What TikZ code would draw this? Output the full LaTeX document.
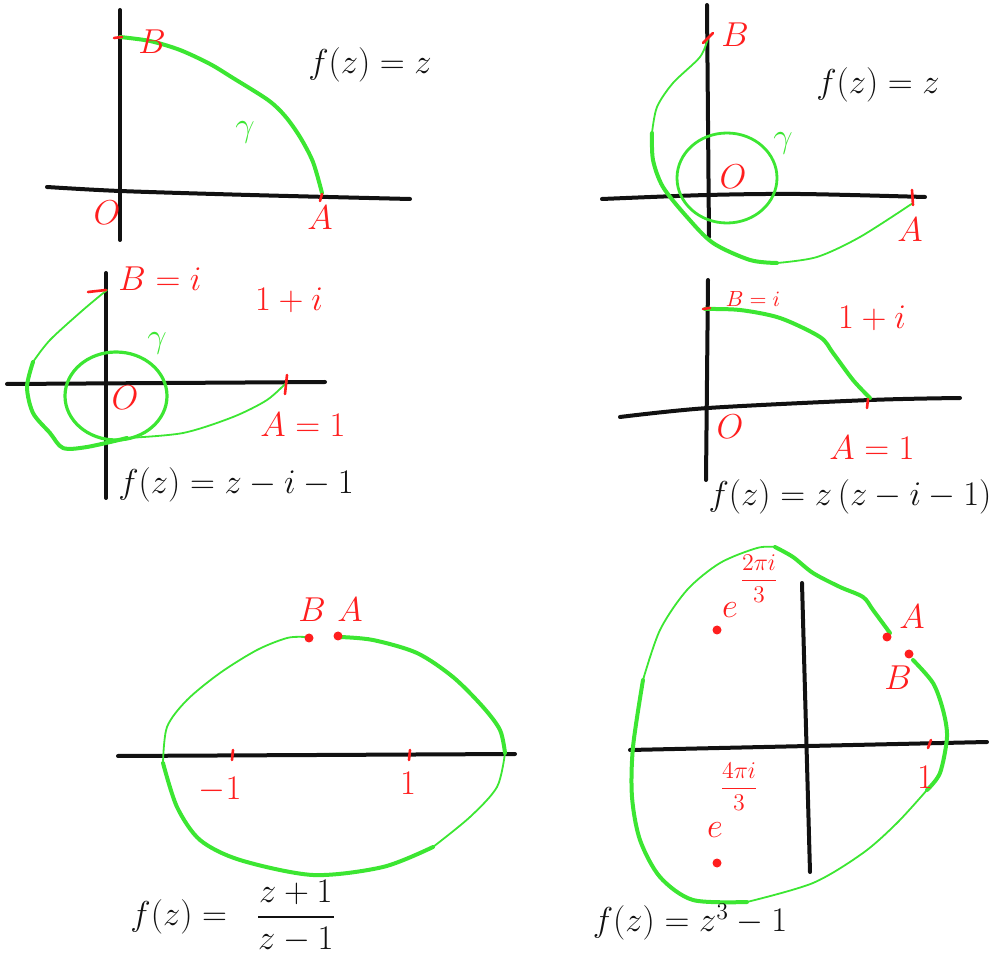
\documentclass[tikz,border=0pt]{standalone}
\usepackage{amsmath,amssymb}
\usepackage{tikz}
\usetikzlibrary{positioning}
\definecolor{Ink}{HTML}{111111}
\definecolor{Chalk}{HTML}{3CE632}
\definecolor{Mark}{HTML}{FF1E1E}
\tikzset{
  axis/.style={line width=2pt,draw=Ink,line cap=round},
  gam/.style={draw=Chalk,line width=2pt,line cap=round,line join=round},
  gamthin/.style={gam,line width=.9pt},
  tickmark/.style={draw=Mark,line width=1.3pt,line cap=round},
  dot/.style={circle,fill=Mark,draw=none,inner sep=0pt,minimum size=4.5pt},
  lab/.style={text=Mark,font=\fontsize{16}{18}\selectfont,inner sep=1pt},
  smalllab/.style={lab,font=\fontsize{11}{13}\selectfont},
  explab/.style={lab,font=\fontsize{12}{14}\selectfont},
  glab/.style={text=Chalk,font=\fontsize{18}{20}\selectfont,inner sep=1pt},
  formula/.style={text=Ink,font=\fontsize{18}{20}\selectfont,inner sep=1pt}
}
\begin{document}
\begin{tikzpicture}[x=0.5pt,y=-0.5pt]
  \useasboundingbox (0,0) rectangle (1003,957);
  % top left: quarter arc
  \draw[axis] (120,10) -- (120,240);
  \draw[axis] plot[smooth] coordinates {(47,187) (120,191) (250,195) (410,199)};
  \draw[gam] plot[smooth] coordinates {(120,37) (150,41) (180,50) (210,64) (233,78) (268,100) (285,116) (300,137) (313,162) (322,193)};
  \draw[tickmark] (114,38) -- (122,37); \draw[tickmark] (322,194) -- (320,201);
  \node[lab] (b1) at (152,42) {$B$};
  \node[lab] (o1) at (107,213) {$O$};
  \node[lab] (a1) at (320,218) {$A$};
  \node[glab] (g1) at (245,132) {$\gamma$};
  \node[formula] (f1) at (370,65) {$f(z)=z$};
  % top right: winding curve
  \draw[axis] (707,5) -- (709,237);
  \draw[axis] plot[smooth] coordinates {(602,199) (707,195) (800,194) (925,197)};
  \draw[gamthin] plot[smooth] coordinates {(708,38) (700,57) (673,83) (657,107) (652,133)};
  \draw[gam] plot[smooth] coordinates {(652,133) (653,160) (663,187) (687,217) (713,243) (750,260) (777,263)};
  \draw[gamthin] plot[smooth] coordinates {(777,263) (817,257) (860,237) (913,203)};
  \draw[gam,line width=1.4pt] (727,178) ellipse [x radius=25pt,y radius=22.5pt];
  \draw[tickmark] (703,43) -- (713,33); \draw[tickmark] (912,190) -- (913,205);
  \node[lab] (b2) at (735,35) {$B$};
  \node[lab] (o2) at (733,177) {$O$};
  \node[lab] (a2) at (910,230) {$A$};
  \node[glab] (g2) at (783,143) {$\gamma$};
  \node[formula] (f2) at (878,85) {$f(z)=z$};
  % middle left
  \draw[axis] (106,273) -- (106,498);
  \draw[axis] (7,384) -- (325,382);
  \draw[gamthin] plot[smooth] coordinates {(107,290) (83,310) (50,340) (33,362)};
  \draw[gam] plot[smooth] coordinates {(33,362) (27,387) (33,413) (50,433) (63,448) (87,447) (127,438)};
  \draw[gamthin] plot[smooth] coordinates {(127,438) (183,433) (233,417) (267,400) (287,382)};
  \draw[gam,line width=1.6pt] (116,396) ellipse [x radius=25.5pt,y radius=22pt];
  \draw[tickmark] (88,292) -- (106,290); \draw[tickmark] (287,375) -- (285,394);
  \node[lab] (b3) at (160,279) {$B=i$};
  \node[lab] (p3) at (289,300) {$1+i$};
  \node[lab] (o3) at (125,398) {$O$};
  \node[lab] (a3) at (303,425) {$A=1$};
  \node[glab] (g3) at (157,343) {$\gamma$};
  \node[formula] (f3) at (236,485) {$f(z)=z-i-1$};
  % middle right
  \draw[axis] (708,280) -- (706,480);
  \draw[axis] plot[smooth] coordinates {(620,417) (708,408) (870,400) (960,398)};
  \draw[gam] plot[smooth] coordinates {(705,309) (740,310) (780,318) (820,337) (833,353) (853,380) (870,398)};
  \draw[tickmark] (703,309) -- (710,308); \draw[tickmark] (868,399) -- (867,408);
  \node[smalllab] (b4) at (753,299) {$B=i$};
  \node[lab] (p4) at (872,318) {$1+i$};
  \node[lab] (o4) at (730,427) {$O$};
  \node[lab] (a4) at (872,448) {$A=1$};
  \node[formula] (f4) at (850,497) {$f(z)=z\,(z-i-1)$};
  % bottom left: Moebius image
  \draw[axis] (118,756) -- (515,754);
  \draw[gam] plot[smooth] coordinates {(340,637) (373,640) (417,653) (453,677) (483,707) (500,730) (505,753)};
  \draw[gamthin] plot[smooth] coordinates {(505,753) (497,787) (470,817) (433,847)};
  \draw[gam] plot[smooth] coordinates {(433,847) (383,867) (313,875) (240,860) (200,840) (177,807) (163,763)};
  \draw[gamthin] plot[smooth] coordinates {(163,763) (167,727) (187,700) (220,673) (257,650) (287,638) (305,637)};
  \draw[tickmark] (233,750) -- (232,760); \draw[tickmark] (410,750) -- (409,760);
  \node[dot] (pb5) at (309,638) {};
  \node[dot] (pa5) at (338,636) {};
  \node[lab] (b5) at (312,610) {$B$};
  \node[lab] (a5) at (350,610) {$A$};
  \node[lab] (m5) at (220,790) {$-1$};
  \node[lab] (u5) at (408,783) {$1$};
  \node[formula,anchor=west] (f5) at (128,916) {$f(z)=\;\;\dfrac{z+1}{z-1}$};
  % bottom right: cube
  \draw[axis] (802,583) -- (810,872);
  \draw[axis] (630,750) -- (987,742);
  \draw[gam] plot[smooth] coordinates {(890,633) (873,610) (863,597) (840,587) (813,573) (793,557) (775,547)};
  \draw[gamthin] plot[smooth] coordinates {(775,547) (757,548) (720,563) (687,590) (660,630) (643,680)};
  \draw[gam] plot[smooth] coordinates {(643,680) (633,747) (632,797) (640,840) (660,877) (693,900) (747,902)};
  \draw[gamthin] plot[smooth] coordinates {(747,902) (813,883) (863,853) (897,823) (927,790)};
  \draw[gam] plot[smooth] coordinates {(927,790) (940,773) (947,737) (943,710) (933,683) (913,660)};
  \draw[tickmark] (931,740) -- (928,748);
  \node[dot] (pa6) at (887,637) {};
  \node[dot] (pb6) at (909,654) {};
  \node[dot] (w1) at (717,630) {};
  \node[dot] (w2) at (717,863) {};
  \node[lab] (a6) at (912,617) {$A$};
  \node[lab] (b6) at (898,678) {$B$};
  \node[lab] (u6) at (925,777) {$1$};
  \node[lab] (e1) at (730,610) {$e$};
  \node[explab,above right=-2.5pt and -1.5pt of e1] (x1) {$\dfrac{2\pi i}{3}$};
  \node[lab] (e2) at (715,830) {$e$};
  \node[explab,above right=3.5pt and -4pt of e2] (x2) {$\dfrac{4\pi i}{3}$};
  \node[formula] (f6) at (690,922) {$f(z)=z^3-1$};
\end{tikzpicture}
\end{document}
